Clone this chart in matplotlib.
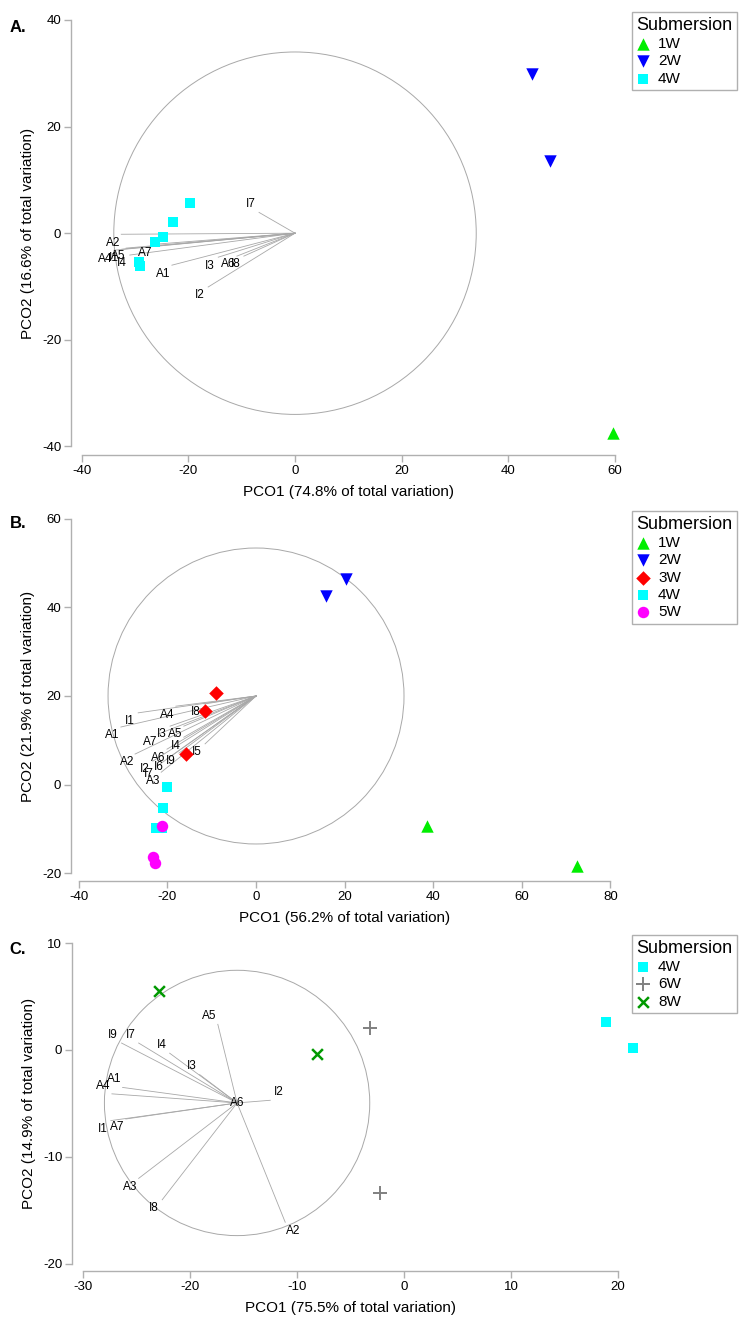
import numpy as np
import matplotlib
matplotlib.use('Agg')
import matplotlib.pyplot as plt
from matplotlib.patches import Circle

plt.rcParams['font.family'] = ['Liberation Sans', 'DejaVu Sans']
plt.rcParams['axes.unicode_minus'] = False

# ---------------- data ----------------
# Panel A
a_groups = ['1W', '2W', '4W']
a_px = {'1W': [59.7], '2W': [44.5, 47.9],
        '4W': [-19.7, -22.9, -24.8, -26.3, -29.3, -29.1]}
a_py = {'1W': [-37.5], '2W': [29.8, 13.5],
        '4W': [5.6, 2.1, -0.75, -1.7, -5.4, -6.2]}
a_vec_names = ['I7', 'A2', 'A4', 'I1', 'A5', 'I4', 'A7', 'A1', 'I3', 'A6', 'I8', 'I2']
a_vec_x = [-6.75, -32.6, -34.0, -32.5, -31.7, -31.0, -26.6, -23.1, -14.4, -10.9, -9.6, -16.3]
a_vec_y = [3.9, -0.2, -3.2, -3.0, -2.8, -4.1, -2.1, -6.0, -4.5, -4.3, -4.3, -10.1]
a_origin = (0.0, 0.0)
a_radius = 34.0
a_xticks = [-40, -20, 0, 20, 40, 60]
a_yticks = [-40, -20, 0, 20, 40]

# Panel B
b_groups = ['1W', '2W', '3W', '4W', '5W']
b_px = {'1W': [38.5, 72.5], '2W': [15.8, 20.3], '3W': [-9.0, -11.5, -15.8],
        '4W': [-20.1, -21.0, -22.6, -21.2], '5W': [-21.2, -23.3, -22.9]}
b_py = {'1W': [-9.3, -18.3], '2W': [42.6, 46.3], '3W': [20.6, 16.6, 7.0],
        '4W': [-0.5, -5.3, -9.8, -9.8], '5W': [-9.3, -16.3, -17.6]}
b_vec_names = ['I1', 'A4', 'I8', 'A1', 'A7', 'I3', 'A5', 'I4',
               'A2', 'A6', 'I9', 'I5', 'I2', 'I6', 'I7', 'A3']
b_vec_x = [-26.6, -18.1, -11.7, -30.5, -22.1, -19.4, -16.3, -16.3,
           -27.3, -20.1, -17.4, -11.5, -23.3, -20.1, -22.3, -21.4]
b_vec_y = [16.2, 17.7, 18.2, 13.0, 11.4, 13.2, 13.2, 10.7,
           6.9, 8.0, 7.1, 9.2, 5.3, 5.8, 4.2, 2.8]
b_origin = (0.0, 20.0)
b_radius = 33.4
b_xticks = [-40, -20, 0, 20, 40, 60, 80]
b_yticks = [-20, 0, 20, 40, 60]

# Panel C
c_groups = ['4W', '6W', '8W']
c_px = {'4W': [18.9, 21.4], '6W': [-3.2, -2.2], '8W': [-22.9, -8.1]}
c_py = {'4W': [2.6, 0.2], '6W': [2.1, -13.4], '8W': [5.5, -0.4]}
c_vec_names = ['A5', 'I9', 'I7', 'I4', 'I3', 'A1', 'A4', 'I2',
               'I1', 'A7', 'A3', 'I8', 'A2', 'A6']
c_vec_x = [-17.4, -26.4, -24.8, -21.9, -19.1, -26.3, -27.3, -12.5,
           -27.4, -26.0, -24.8, -22.6, -11.1, -15.6]
c_vec_y = [2.4, 0.65, 0.65, -0.3, -2.3, -3.5, -4.1, -4.7,
           -6.6, -6.45, -12.0, -14.0, -16.1, -4.95]
c_origin = (-15.6, -4.95)
c_radius = 12.4
c_xticks = [-30, -20, -10, 0, 10, 20]
c_yticks = [-20, -10, 0, 10]

# ---------------- styles ----------------
STYLE = {
    '1W': dict(marker='^', color='#00ee00', s=80, linewidths=0),
    '2W': dict(marker='v', color='#0000ff', s=80, linewidths=0),
    '3W': dict(marker='D', color='#ff0000', s=55, linewidths=0),
    '4W': dict(marker='s', color='#00ffff', s=62, linewidths=0),
    '5W': dict(marker='o', color='#ff00ff', s=68, linewidths=0),
    '6W': dict(marker='+', color='#808080', s=95, linewidths=1.4),
    '8W': dict(marker='x', color='#009900', s=60, linewidths=1.8),
}
GREY = '#b0b0b0'
W, H = 751, 1324

fig = plt.figure(figsize=(W / 100, H / 100), dpi=100)


def panel(box, xlim, ytop, groups, px, py, names, vx, vy, origin, radius,
          xticks, yticks, xlab, ylab, tag, legend_top):
    l, t, r, b = box
    ax = fig.add_axes([l / W, 1 - b / H, (r - l) / W, (b - t) / H])
    scale = (r - l) / (xlim[1] - xlim[0])
    ax.set_xlim(xlim)
    ax.set_ylim(ytop - (b - t) / scale, ytop)
    ax.patch.set_alpha(0)

    ax.add_patch(Circle(origin, radius, fill=False, color='#a8a8a8', lw=0.7))
    ox, oy = origin
    for n, x, y in zip(names, vx, vy):
        ax.plot([ox, x], [oy, y], color='#a8a8a8', lw=0.6)
        dx, dy = x - ox, y - oy
        off = (6 * np.sign(dx), 6 * np.sign(dy))
        ax.annotate(n, (x, y), xytext=off, textcoords='offset points',
                    ha='center', va='center', fontsize=8.5)

    handles = []
    for g in groups:
        handles.append(ax.scatter(px[g], py[g], zorder=3, clip_on=False, **STYLE[g]))

    for s in ['top', 'right']:
        ax.spines[s].set_visible(False)
    ax.spines['left'].set_bounds(yticks[0], yticks[-1])
    ax.spines['bottom'].set_bounds(xticks[0], xticks[-1])
    for s in ['left', 'bottom']:
        ax.spines[s].set_color(GREY)
        ax.spines[s].set_linewidth(1)
    ax.set_xticks(xticks)
    ax.set_yticks(yticks)
    ax.tick_params(direction='out', length=5, width=1, color=GREY,
                   labelsize=9.5, pad=2)

    ylo = ax.get_ylim()[0]
    ax.annotate(xlab, ((xticks[0] + xticks[-1]) / 2, ylo), xytext=(0, -37),
                textcoords='offset pixels', ha='center', va='center', fontsize=11)
    ax.annotate(ylab, (xlim[0], (yticks[0] + yticks[-1]) / 2), xytext=(-43, 0),
                textcoords='offset pixels', ha='center', va='center',
                rotation=90, fontsize=11)
    fig.text(18 / W, 1 - (t + 7) / H, tag, ha='center', va='center',
             fontsize=12, fontweight='bold')

    leg = ax.legend(handles, groups, title='Submersion', loc='upper left',
                    bbox_to_anchor=(632 / W, 1 - legend_top / H),
                    bbox_transform=fig.transFigure, fancybox=False,
                    edgecolor=GREY, fontsize=11, title_fontsize=13,
                    alignment='left', handlelength=0.9, handletextpad=0.5,
                    labelspacing=0.22, borderpad=0.3, borderaxespad=0,
                    scatterpoints=1, framealpha=1)
    leg.get_frame().set_linewidth(1)
    return ax


panel((71, 20, 622, 455), (-42.03, 61.35), 40.0, a_groups, a_px, a_py,
      a_vec_names, a_vec_x, a_vec_y, a_origin, a_radius, a_xticks, a_yticks,
      'PCO1 (74.8% of total variation)', 'PCO2 (16.6% of total variation)',
      'A.', 12)
panel((71, 517, 622, 881), (-41.76, 82.6), 60.4, b_groups, b_px, b_py,
      b_vec_names, b_vec_x, b_vec_y, b_origin, b_radius, b_xticks, b_yticks,
      'PCO1 (56.2% of total variation)', 'PCO2 (21.9% of total variation)',
      'B.', 511)
panel((72, 943, 640, 1271), (-31.03, 22.06), 10.0, c_groups, c_px, c_py,
      c_vec_names, c_vec_x, c_vec_y, c_origin, c_radius, c_xticks, c_yticks,
      'PCO1 (75.5% of total variation)', 'PCO2 (14.9% of total variation)',
      'C.', 935)

fig.savefig('out.png', dpi=100)
